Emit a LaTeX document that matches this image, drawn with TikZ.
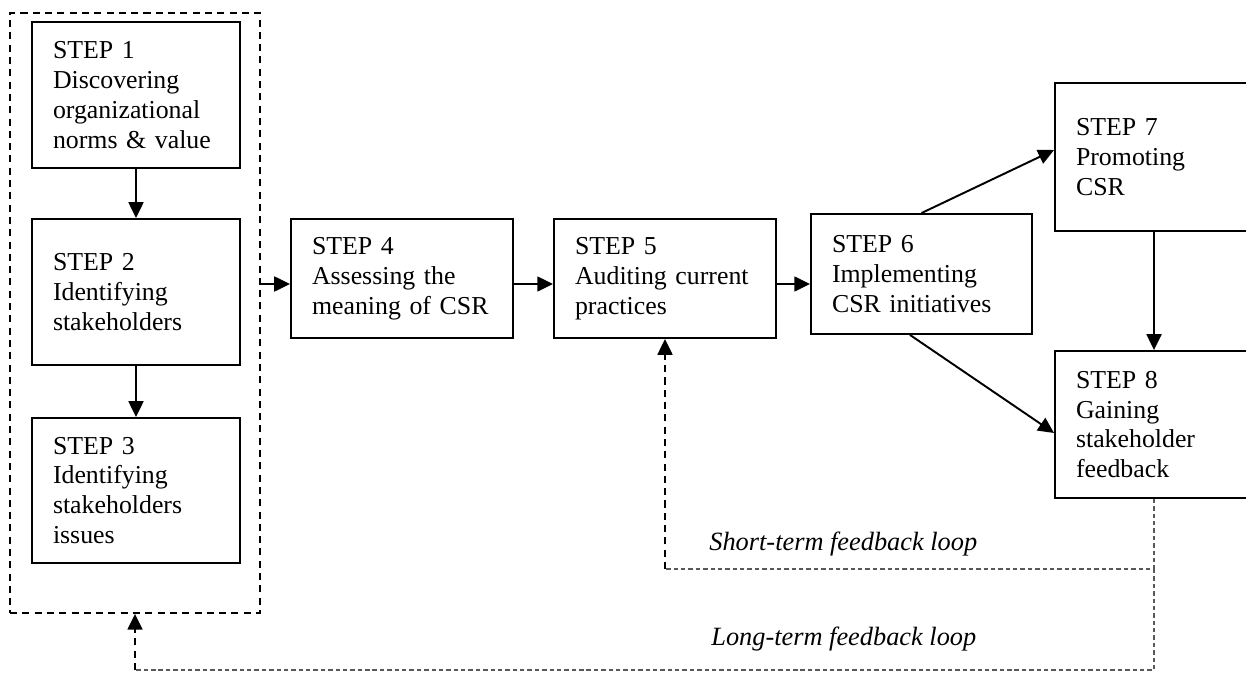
\documentclass[tikz,border=0pt]{standalone}
\usepackage{fontspec}
\setmainfont{Liberation Serif}
\usetikzlibrary{arrows.meta}

\begin{document}
\begin{tikzpicture}[x=0.02cm, y=-0.02cm,
    stepbox/.style={draw, line width=1.1pt, align=left, inner xsep=0.42cm, inner ysep=0pt,
      font=\fontsize{14.7}{17}\selectfont},
    arr/.style={line width=1.1pt, -{Triangle[length=9pt,width=8.5pt]}},
    fbline/.style={line width=0.6pt, black!65, dash pattern=on 2.5pt off 1.7pt},
    fbarr/.style={line width=1.1pt, dash pattern=on 4pt off 3pt, -{Triangle[length=9pt,width=8.5pt]}},
    looplabel/.style={anchor=base west, inner sep=0pt, font=\fontsize{15}{17}\selectfont\itshape}]
  \useasboundingbox (0,0) rectangle (1246,672);

  \node[draw, line width=1.1pt, dash pattern=on 4pt off 3pt, minimum width=5cm, minimum height=12cm] (fb) at (135,313) {};

  \node[stepbox, text width=3.32cm, minimum height=2.92cm] (s1) at (136,95) {STEP 1\\Discovering\\organizational\\norms \& value};
  \node[stepbox, text width=3.32cm, minimum height=2.92cm] (s2) at (136,292) {STEP 2\\Identifying\\stakeholders};
  \node[stepbox, text width=3.32cm, minimum height=2.9cm] (s3) at (136,490.5) {STEP 3\\Identifying\\stakeholders\\issues};
  \node[stepbox, text width=3.6cm, minimum height=2.38cm] (s4) at (402,278.5) {STEP 4\\Assessing the\\meaning of CSR};
  \node[stepbox, text width=3.6cm, minimum height=2.38cm] (s5) at (665,278.5) {STEP 5\\Auditing current\\practices};
  \node[stepbox, text width=3.58cm, minimum height=2.4cm] (s6) at (921.5,274) {STEP 6\\Implementing\\CSR initiatives};
  \node[stepbox, text width=3.12cm, minimum height=2.96cm] (s7) at (1154,157) {STEP 7\\Promoting\\CSR};
  \node[stepbox, text width=3.12cm, minimum height=2.94cm] (s8) at (1154,424.5) {STEP 8\\Gaining\\stakeholder\\feedback};

  \draw[arr] (s1) -- (s2);
  \draw[arr] (s2) -- (s3);
  \draw[arr] (fb.east |- 0,284) -- (s4.west |- 0,284);
  \draw[arr] (s4.east |- 0,284) -- (s5.west |- 0,284);
  \draw[arr] (s5.east |- 0,284) -- (s6.west |- 0,284);
  \draw[arr] (s6.north) -- ([yshift=0.14cm]s7.west);
  \draw[arr] ([xshift=-0.23cm]s6.south) -- ([yshift=-0.17cm]s8.west);
  \draw[arr] (s7) -- (s8);

  % feedback loops
  \draw[fbline] (s8.south) -- (1154,569) coordinate (st) -- (st -| s5.south) coordinate (sl);
  \draw[fbline] (st) -- (1154,670) coordinate (lt) -- (lt -| fb.south) coordinate (ll);
  \draw[fbarr] (sl) -- (s5.south);
  \draw[fbarr] (ll) -- (fb.south);

  \node[looplabel] (sfl) at (709,550) {Short-term feedback loop};
  \node[looplabel] (lfl) at (711,645) {Long-term feedback loop};
\end{tikzpicture}
\end{document}
